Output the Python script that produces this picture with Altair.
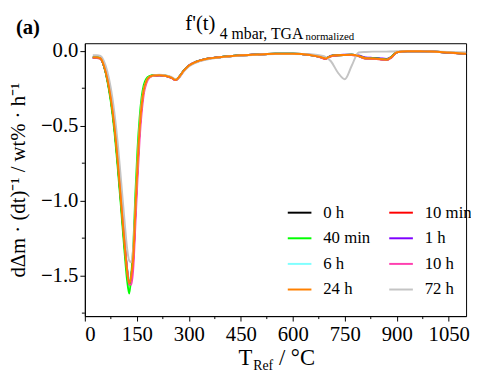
import altair as alt
import pandas as pd

# Temperature grid (°C)
T = [23, 35, 45, 55, 65, 75, 85, 95, 105, 115, 122, 128, 134, 140, 146, 152, 158, 164, 170, 178,
     186, 198, 215, 235, 250, 262, 272, 285, 300, 320, 350, 400, 450, 500, 550, 600, 650, 680, 695, 710,
     730, 750, 770, 790, 810, 830, 850, 870, 885, 900, 930, 970, 1000, 1050, 1100]

v_0h = [-0.046, -0.046, -0.05, -0.10, -0.19, -0.32, -0.50, -0.74, -1.01, -1.29, -1.46, -1.54, -1.50, -1.36, -1.05, -0.76, -0.52, -0.36, -0.26, -0.20,
        -0.175, -0.165, -0.163, -0.168, -0.18, -0.195, -0.175, -0.135, -0.10, -0.075, -0.055, -0.04, -0.03, -0.025, -0.02, -0.02, -0.028, -0.042, -0.052, -0.036,
        -0.03, -0.028, -0.027, -0.035, -0.05, -0.052, -0.055, -0.06, -0.042, -0.01, -0.003, -0.004, -0.005, -0.012, -0.02]
v_10min = [-0.048, -0.048, -0.052, -0.10, -0.19, -0.32, -0.50, -0.75, -1.03, -1.31, -1.48, -1.56, -1.52, -1.38, -1.07, -0.78, -0.53, -0.37, -0.26, -0.20,
           -0.176, -0.166, -0.164, -0.169, -0.181, -0.196, -0.176, -0.136, -0.10, -0.076, -0.056, -0.041, -0.031, -0.026, -0.021, -0.021, -0.029, -0.044, -0.054, -0.037,
           -0.031, -0.029, -0.028, -0.036, -0.052, -0.054, -0.057, -0.062, -0.044, -0.011, -0.003, -0.004, -0.006, -0.013, -0.021]
v_40min = [-0.042, -0.042, -0.048, -0.10, -0.20, -0.34, -0.53, -0.78, -1.06, -1.35, -1.53, -1.62, -1.50, -1.30, -0.95, -0.66, -0.45, -0.31, -0.23, -0.185,
           -0.17, -0.163, -0.162, -0.167, -0.179, -0.194, -0.174, -0.134, -0.10, -0.075, -0.055, -0.04, -0.03, -0.025, -0.02, -0.02, -0.028, -0.042, -0.05, -0.035,
           -0.03, -0.028, -0.027, -0.034, -0.048, -0.05, -0.053, -0.058, -0.04, -0.01, -0.003, -0.004, -0.005, -0.012, -0.02]
v_1h = [-0.045, -0.045, -0.05, -0.10, -0.19, -0.32, -0.50, -0.74, -1.02, -1.30, -1.47, -1.55, -1.51, -1.37, -1.06, -0.77, -0.52, -0.36, -0.26, -0.20,
        -0.175, -0.165, -0.163, -0.168, -0.18, -0.195, -0.175, -0.135, -0.10, -0.075, -0.055, -0.04, -0.03, -0.025, -0.02, -0.02, -0.027, -0.04, -0.05, -0.034,
        -0.029, -0.027, -0.026, -0.032, -0.045, -0.048, -0.05, -0.055, -0.04, -0.01, -0.003, -0.004, -0.005, -0.012, -0.02]
v_6h = [-0.045, -0.045, -0.05, -0.10, -0.19, -0.32, -0.50, -0.74, -1.01, -1.29, -1.45, -1.53, -1.49, -1.36, -1.05, -0.76, -0.52, -0.36, -0.26, -0.20,
        -0.175, -0.165, -0.163, -0.168, -0.18, -0.195, -0.175, -0.135, -0.10, -0.075, -0.055, -0.04, -0.03, -0.025, -0.02, -0.02, -0.028, -0.042, -0.051, -0.036,
        -0.03, -0.028, -0.027, -0.035, -0.05, -0.052, -0.055, -0.06, -0.042, -0.01, -0.003, -0.004, -0.005, -0.012, -0.02]
v_10h = [-0.045, -0.045, -0.05, -0.09, -0.18, -0.30, -0.48, -0.72, -1.00, -1.28, -1.46, -1.56, -1.56, -1.44, -1.15, -0.85, -0.59, -0.41, -0.29, -0.215,
         -0.18, -0.167, -0.164, -0.169, -0.181, -0.196, -0.177, -0.137, -0.10, -0.076, -0.056, -0.041, -0.031, -0.026, -0.021, -0.021, -0.029, -0.043, -0.053, -0.037,
         -0.031, -0.029, -0.028, -0.036, -0.051, -0.053, -0.056, -0.061, -0.043, -0.011, -0.003, -0.004, -0.005, -0.012, -0.02]
v_24h = [-0.045, -0.045, -0.05, -0.10, -0.19, -0.32, -0.50, -0.74, -1.02, -1.30, -1.47, -1.55, -1.50, -1.36, -1.05, -0.76, -0.52, -0.36, -0.26, -0.20,
         -0.175, -0.165, -0.163, -0.168, -0.18, -0.195, -0.175, -0.135, -0.10, -0.075, -0.055, -0.04, -0.03, -0.025, -0.02, -0.02, -0.028, -0.042, -0.052, -0.036,
         -0.03, -0.028, -0.027, -0.035, -0.05, -0.052, -0.055, -0.06, -0.042, -0.01, -0.003, -0.004, -0.005, -0.012, -0.02]
v_72h = [-0.03, -0.03, -0.035, -0.07, -0.14, -0.25, -0.41, -0.62, -0.88, -1.15, -1.32, -1.40, -1.41, -1.30, -1.03, -0.75, -0.51, -0.35, -0.26, -0.20,
         -0.175, -0.165, -0.16, -0.165, -0.175, -0.19, -0.18, -0.14, -0.105, -0.08, -0.06, -0.042, -0.032, -0.026, -0.022, -0.022, -0.024, -0.032, -0.042, -0.07,
         -0.145, -0.19, -0.10, -0.012, -0.008, -0.006, -0.006, -0.006, -0.005, -0.004, -0.003, -0.004, -0.005, -0.008, -0.01]

# legend order (column-major fill gives rows: 0 h | 10 min, 40 min | 1 h, 6 h | 10 h, 24 h | 72 h)
series_names = ["0 h", "40 min", "6 h", "24 h", "10 min", "1 h", "10 h", "72 h"]
series_colors = ["#000000", "#00ff00", "#80ffff", "#ff8000", "#ff0000", "#7f00ff", "#ff40b0", "#c4c4c4"]
series_values = {"0 h": v_0h, "10 min": v_10min, "40 min": v_40min, "1 h": v_1h,
                 "6 h": v_6h, "10 h": v_10h, "24 h": v_24h, "72 h": v_72h}
draw_order = ["0 h", "10 min", "6 h", "1 h", "40 min", "10 h", "72 h", "24 h"]

x_ticks = [0, 150, 300, 450, 600, 750, 900, 1050]
x_minor = [75, 225, 375, 525, 675, 825, 975]
y_ticks = [0.0, -0.5, -1.0, -1.5]
y_minor = [-0.25, -0.75, -1.25, -1.75]

rows = []
for name in draw_order:
    for t, v in zip(T, series_values[name]):
        rows.append({"T": t, "v": v, "series": name})
df = pd.DataFrame(rows)

FONT = "Liberation Serif"
W, H = 387, 277
xscale = alt.Scale(domain=[0, 1100], nice=False)
yscale = alt.Scale(domain=[-1.77, 0.05], nice=False)

lines = alt.Chart(df).mark_line(strokeWidth=2, interpolate="monotone").encode(
    x=alt.X("T:Q", scale=xscale,
            axis=alt.Axis(values=x_ticks, format="d", title=None, tickSize=5, labelPadding=3,
                          labelFont=FONT, labelFontSize=21, labelColor="black",
                          domainColor="black", tickColor="black", grid=False)),
    y=alt.Y("v:Q", scale=yscale,
            axis=alt.Axis(values=y_ticks, format=".1f", title="dΔm · (dt)⁻¹ / wt% · h⁻¹",
                          titleFont=FONT, titleFontSize=21, titleFontWeight="normal", titleColor="black",
                          titlePadding=12, tickSize=5, labelPadding=2,
                          labelFont=FONT, labelFontSize=21, labelColor="black",
                          domainColor="black", tickColor="black", grid=False)),
    color=alt.Color("series:N", scale=alt.Scale(domain=series_names, range=series_colors),
                    legend=alt.Legend(orient="none", legendX=205, legendY=159, columns=2,
                                      title=None, symbolType="stroke", symbolSize=576,
                                      symbolStrokeWidth=2, labelFont=FONT, labelFontSize=17,
                                      labelColor="black", labelOffset=11, columnPadding=15,
                                      rowPadding=5)),
    detail="series:N",
)

xminor_df = pd.DataFrame({"T": x_minor})
yminor_df = pd.DataFrame({"v": y_minor})
xm = alt.Chart(xminor_df).mark_rule(color="black", strokeWidth=1).encode(
    x=alt.X("T:Q", scale=xscale), y=alt.value(H), y2=alt.value(H + 3))
ym = alt.Chart(yminor_df).mark_rule(color="black", strokeWidth=1).encode(
    y=alt.Y("v:Q", scale=yscale), x=alt.value(0), x2=alt.value(-3))

def txt(s, x, y, size, weight="normal"):
    return alt.Chart(pd.DataFrame({"k": [0]})).mark_text(
        text=s, align="left", baseline="alphabetic", font=FONT, fontSize=size,
        fontWeight=weight, color="black"
    ).encode(x=alt.value(x), y=alt.value(y))

texts = [
    txt("(a)", -70, -9, 21, "bold"),
    txt("f'(t)", 102, -13, 21),
    txt("4 mbar, TGA", 137, -4.5, 16),
    txt("normalized", 224, -3, 11),
    txt("T", 156, 327, 23),
    txt("Ref", 171, 332, 14),
    txt("/ °C", 197, 327, 23),
]

chart = alt.layer(lines, xm, ym, *texts).properties(
    width=W, height=H,
    autosize=alt.AutoSizeParams(type="none"),
    padding={"left": 78, "top": 33, "right": 5, "bottom": 57},
).configure(font=FONT).configure_view(stroke="black", strokeWidth=1).configure_axis(
    domainWidth=1, tickWidth=1, labelFont=FONT, titleFont=FONT
).configure_legend(labelFont=FONT)

chart.save("out.html", embed_options={"renderer": "svg", "actions": False})
